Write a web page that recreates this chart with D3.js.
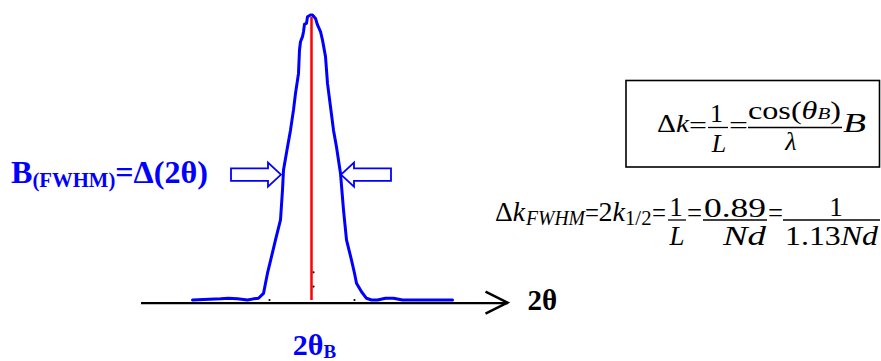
<!DOCTYPE html>
<html>
<head>
<meta charset="utf-8">
<script src="https://cdn.jsdelivr.net/npm/d3@7/dist/d3.min.js"></script>
</head>
<body style="margin:0">
<script>
// ---- data ----
const twoTheta = [-11.9,-9.1,-8.3,-7.4,-6.4,-5.8,-5.3,-4.8,-4.6,-4.4,-4.0,-3.6,-3.1,-2.9,-2.8,-2.4,-2.1,-1.8,-1.6,-1.3,-1.2,-1.1,-0.9,-0.8,-0.7,-0.5,-0.4,-0.1,0.1,0.4,0.6,0.9,1.1,1.4,1.6,1.9,2.2,2.5,2.9,3.2,3.5,4.0,4.3,4.5,5.0,5.5,6.0,6.6,7.4,8.2,9.1,14.1];
const intensity = [0,0.4,0.6,0.4,0,0.4,0.6,2.3,5.9,9.4,15.2,21.1,28.1,38.6,45.6,53.7,59.6,66.7,72.5,79.5,87.7,90.6,92.4,94.1,96.8,97.1,99.4,100,100,98.8,96.5,94.2,91.2,85.4,76.0,67.8,59.6,53.7,44.4,31.6,21.1,14.0,9.4,5.9,2.9,0.6,0,0,0.6,0.6,0,0];
const braggPosition = 0;          // 2θB
const peakMax = 100;
const fwhmLevel = 44;              // level where the arrows point
const fwhmEdges = [-2.95, 2.85];   // curve edges at that level
const dotX = [-4.2, 4.3, 13.1];    // small marks on baseline
const dotY = [9.7, 4.7];           // small marks next to the red line
const axisExtent = [-17.1, 19.6];
const axisLabel = "2θ";

const FONT = '"Liberation Serif"';
const W = 881, H = 361;
const svg = d3.select("body").append("svg").attr("width", W).attr("height", H)
  .style("display", "block");

const x = d3.scaleLinear().domain([-12, 14]).range([191.5, 451.5]);
const y = d3.scaleLinear().domain([0, 100]).range([300, 15]);
const BLUE = "#0000ff";

// ---- axis ----
const axisScale = x.copy().domain(axisExtent).range(axisExtent.map(x));
const axisG = svg.append("g").attr("transform", `translate(0,${y(0) + 2.6})`)
  .call(d3.axisBottom(axisScale).tickValues([]).tickSizeOuter(0));
axisG.select(".domain").attr("stroke", "#000").attr("stroke-width", 2.2);
const xe = axisScale(axisExtent[1]), ya = y(0) + 2.6;
svg.append("path")
  .attr("d", `M${xe - 22},${ya - 11} L${xe},${ya} L${xe - 22},${ya + 11}`)
  .attr("fill", "none").attr("stroke", "#000").attr("stroke-width", 2.4);

// ---- small dots ----
svg.selectAll("circle.bd").data(dotX).join("circle").attr("class", "bd")
  .attr("cx", d => x(d)).attr("cy", y(0)).attr("r", 1.1).attr("fill", "#000");
svg.selectAll("circle.rd").data(dotY).join("circle").attr("class", "rd")
  .attr("cx", x(braggPosition) + 2).attr("cy", d => y(d)).attr("r", 1.1).attr("fill", "#000");

// ---- peak curve ----
const pts = twoTheta.map((t, i) => [t, intensity[i]]);
svg.append("path").datum(pts)
  .attr("d", d3.line().x(d => x(d[0])).y(d => y(d[1])))
  .attr("fill", "none").attr("stroke", BLUE).attr("stroke-width", 3)
  .attr("stroke-linejoin", "round").attr("stroke-linecap", "round");

// ---- red line at 2θB ----
svg.append("line")
  .attr("x1", x(braggPosition)).attr("x2", x(braggPosition))
  .attr("y1", y(peakMax) + 2).attr("y2", y(0))
  .attr("stroke", "#ff0000").attr("stroke-width", 2.5);

// ---- hollow FWHM arrows ----
function hollowArrow(tipX, tipY, dir) {
  const head = 13, len = 50, hw = 12, sw = 6.2;
  const b = tipX - dir * head, t = tipX - dir * len;
  const d = `M${tipX},${tipY} L${b},${tipY - hw} L${b},${tipY - sw} L${t},${tipY - sw} L${t},${tipY + sw} L${b},${tipY + sw} L${b},${tipY + hw} Z`;
  svg.append("path").attr("d", d).attr("fill", "#fff").attr("stroke", BLUE)
    .attr("stroke-width", 1.8).attr("stroke-linejoin", "miter");
}
hollowArrow(x(fwhmEdges[0]) - 1, y(fwhmLevel), 1);
hollowArrow(x(fwhmEdges[1]) + 1, y(fwhmLevel), -1);

// ---- text helper ----
function piece(px, py, parts, size, opts = {}) {
  const t = svg.append("text").attr("x", px).attr("y", py)
    .attr("font-size", size).style("font-family", FONT)
    .attr("fill", opts.fill || "#000");
  if (opts.bold) t.attr("font-weight", "bold");
  if (opts.anchor) t.attr("text-anchor", opts.anchor);
  if (opts.width) t.attr("textLength", opts.width).attr("lengthAdjust", "spacingAndGlyphs");
  parts.forEach(p => {
    const s = t.append("tspan").text(p.t);
    if (p.i) s.attr("font-style", "italic");
    if (p.s) s.attr("font-size", p.s);
    if (p.dy) s.attr("dy", p.dy);
  });
  return t;
}
function bar(x1, x2, yy) {
  svg.append("line").attr("x1", x1).attr("x2", x2).attr("y1", yy).attr("y2", yy)
    .attr("stroke", "#000").attr("stroke-width", 1.3);
}

// axis label
piece(xe + 20, ya + 7, [{t: axisLabel}], 29, {bold: true});

// ---- blue labels ----
piece(11, 183, [{t: "B"}, {t: "(FWHM)", s: 20, dy: 4}, {t: "=Δ(2θ)", dy: -4}], 31,
  {bold: true, fill: BLUE, width: 197});
piece(x(braggPosition) + 3, 355, [{t: "2θ"}, {t: "B", s: 19, dy: 3}], 30,
  {bold: true, fill: BLUE, anchor: "middle"});

// Box formula
svg.append("rect").attr("x", 626).attr("y", 80.5).attr("width", 253.5).attr("height", 86.5)
  .attr("fill", "none").attr("stroke", "#000").attr("stroke-width", 1.6);
piece(657, 132, [{t: "Δ"}, {t: "k", i: true}], 26, {width: 32});
piece(689, 133.5, [{t: "="}], 26, {width: 18});
piece(716.5, 121.5, [{t: "1"}], 26, {anchor: "middle"});
bar(708, 728, 127.5);
piece(719, 151.5, [{t: "L", i: true}], 26, {anchor: "middle"});
piece(729, 133.5, [{t: "="}], 26, {width: 19});
piece(748, 119, [{t: "cos("}, {t: "θ", i: true}, {t: "B", i: true, s: 17}, {t: ")"}], 26, {width: 93});
bar(748, 842, 127.5);
piece(791, 150, [{t: "λ", i: true}], 26, {anchor: "middle"});
piece(843, 132, [{t: "B", i: true}], 27, {width: 23});

// FWHM formula
piece(495, 221, [{t: "Δ"}, {t: "k", i: true}], 27, {width: 30});
piece(526, 225, [{t: "FWHM", i: true}], 20, {width: 59});
piece(585, 222, [{t: "="}], 27, {width: 14});
piece(598.5, 221, [{t: "2"}, {t: "k", i: true}], 27, {width: 26.5});
piece(625, 225, [{t: "1/2"}], 20, {width: 26.5});
piece(652, 222, [{t: "="}], 27, {width: 14});
piece(676, 215.5, [{t: "1"}], 27, {anchor: "middle"});
bar(668, 686, 220);
piece(677, 245, [{t: "L", i: true}], 27, {anchor: "middle"});
piece(687, 222, [{t: "="}], 27, {width: 15});
piece(704, 216.5, [{t: "0.89"}], 28, {width: 62});
bar(703, 767, 220);
piece(723, 245, [{t: "Nd", i: true}], 28, {width: 43});
piece(768, 222, [{t: "="}], 27, {width: 15});
piece(836, 215.5, [{t: "1"}], 27, {anchor: "middle"});
bar(783, 880, 220);
piece(785, 245, [{t: "1.13"}, {t: "Nd", i: true}], 27, {width: 93});
</script>
</body>
</html>
